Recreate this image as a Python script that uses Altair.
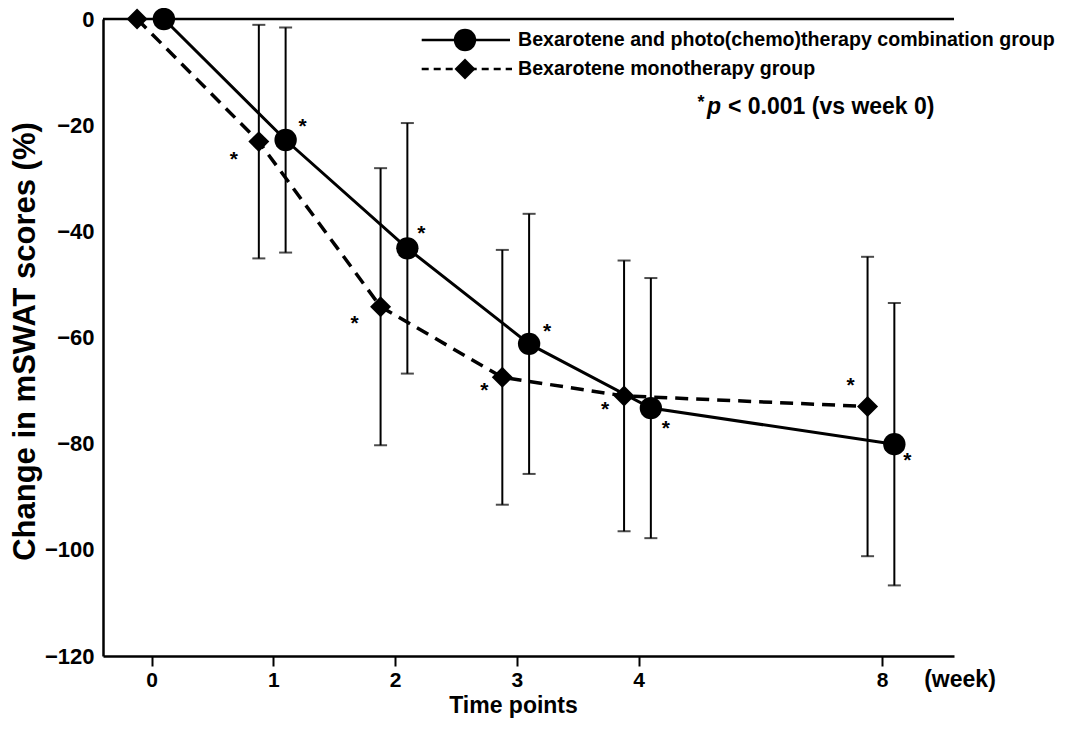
import altair as alt
import pandas as pd

# ---------------- data ----------------
weeks = [0, 1, 2, 3, 4, 8]
week_slot = [0, 1, 2, 3, 4, 6]          # axis position of each time point
combo_mean = [0, -22.8, -43.2, -61.2, -73.3, -80.1]
combo_sd = [0, 21.2, 23.6, 24.5, 24.5, 26.6]
mono_mean = [0, -23.1, -54.2, -67.5, -71.0, -73.0]
mono_sd = [0, 22.0, 26.1, 24.0, 25.5, 28.2]
significant = [False, True, True, True, True, True]
group_names = ["Bexarotene and photo(chemo)therapy combination group",
               "Bexarotene monotherapy group"]
# asterisk offsets (pixels) from each marker
combo_star_dx = [0, 17, 14, 18, 15, 13]
combo_star_dy = [0, -18, -19, -17, 16, 12]
mono_star_dx = [0, -25, -26, -18, -19, -17]
mono_star_dy = [0, 13, 12, 9, 9, -26]
y_ticks = [0, -20, -40, -60, -80, -100, -120]

# ---------------- geometry ----------------
W, H = 851, 637
X_DOM = [-0.40, 6.59]
Y_DOM = [-120, 0]
PX_X = W / (X_DOM[1] - X_DOM[0])
PX_Y = H / (Y_DOM[1] - Y_DOM[0])
DODGE = {"combo": 0.10, "mono": -0.12}
FONT = "Liberation Sans, Arial, Helvetica, sans-serif"

rows = []
for key, means, sds, sdx, sdy in [("combo", combo_mean, combo_sd, combo_star_dx, combo_star_dy),
                                  ("mono", mono_mean, mono_sd, mono_star_dx, mono_star_dy)]:
    for i, w in enumerate(weeks):
        x = week_slot[i] + DODGE[key]
        rows.append(dict(group=key, week=w, x=x, mean=means[i], lo=means[i] - sds[i],
                         hi=means[i] + sds[i], sd=sds[i], sig=significant[i],
                         sx=x + sdx[i] / PX_X, sy=means[i] - sdy[i] / PX_Y, star="*"))
df = pd.DataFrame(rows)

xs = alt.Scale(domain=X_DOM, nice=False, zero=False)
ys = alt.Scale(domain=Y_DOM, nice=False, zero=False)

label_expr = "''"
for s, w in zip(week_slot, weeks):
    label_expr = f"datum.value == {s} ? '{w}' : ({label_expr})"

x_axis = alt.Axis(values=week_slot, labelExpr=label_expr, grid=False, domain=True,
                  domainWidth=2.5, domainColor="black", ticks=True, tickSize=10,
                  tickWidth=2, tickColor="black", labelFontSize=21, labelFont=FONT,
                  labelFontWeight="bold", labelColor="black", labelPadding=3,
                  title="Time points", titleFontSize=23, titleFont=FONT,
                  titleFontWeight="bold", titleColor="black", titleX=410, titleY=49,
                  titleBaseline="middle", titleAlign="center")
y_axis = alt.Axis(values=y_ticks, grid=False, domain=True, domainWidth=2.5,
                  domainColor="black", ticks=False, labelFontSize=22, labelFont=FONT,
                  labelFontWeight="bold", labelColor="black", labelPadding=9,
                  title="Change in mSWAT scores (%)", titleFontSize=31, titleFont=FONT,
                  titleFontWeight="bold", titleColor="black", titleX=-78, titleY=322,
                  titleBaseline="middle", titleAlign="center", titleAngle=270)

base = alt.Chart(df)

top_line = alt.Chart(pd.DataFrame({"y": [0]})).mark_rule(
    color="black", strokeWidth=2.5).encode(y=alt.Y("y:Q", scale=ys, axis=y_axis))

err = base.transform_filter("datum.sd > 0")
err_rule = err.mark_rule(color="black", strokeWidth=2).encode(
    x=alt.X("x:Q", scale=xs, axis=x_axis), y=alt.Y("lo:Q", scale=ys), y2="hi:Q")
cap_lo = err.mark_tick(color="black", orient="horizontal", size=13, thickness=2).encode(
    x=alt.X("x:Q", scale=xs), y=alt.Y("lo:Q", scale=ys))
cap_hi = err.mark_tick(color="black", orient="horizontal", size=13, thickness=2).encode(
    x=alt.X("x:Q", scale=xs), y=alt.Y("hi:Q", scale=ys))

line_combo = base.transform_filter("datum.group == 'combo'").mark_line(
    color="black", strokeWidth=3).encode(
    x=alt.X("x:Q", scale=xs), y=alt.Y("mean:Q", scale=ys), order="x:Q")
line_mono = base.transform_filter("datum.group == 'mono'").mark_line(
    color="black", strokeWidth=3.5, strokeDash=[13, 8]).encode(
    x=alt.X("x:Q", scale=xs), y=alt.Y("mean:Q", scale=ys), order="x:Q")

pt_combo = base.transform_filter("datum.group == 'combo'").mark_point(
    shape="circle", filled=True, size=500, color="black", opacity=1).encode(
    x=alt.X("x:Q", scale=xs), y=alt.Y("mean:Q", scale=ys))
pt_mono = base.transform_filter("datum.group == 'mono'").mark_point(
    shape="diamond", filled=True, size=440, color="black", opacity=1).encode(
    x=alt.X("x:Q", scale=xs), y=alt.Y("mean:Q", scale=ys))

stars = base.transform_filter("datum.sig").mark_text(
    font=FONT, fontSize=21, fontWeight="bold", color="black", baseline="middle",
    align="center", dy=5).encode(
    x=alt.X("sx:Q", scale=xs), y=alt.Y("sy:Q", scale=ys), text="star:N")

# ---------------- legend (drawn by hand, pixel positions in the plot) ----------------
leg = pd.DataFrame({"name": group_names, "row": [0, 1]})
LX1, LX2, LXM, LTX = 318.7, 407, 362, 415
LY = [21, 50]
leg_line1 = alt.Chart(leg[leg.row == 0]).mark_rule(color="black", strokeWidth=2.5).encode(
    x=alt.value(LX1), x2=alt.value(LX2), y=alt.value(LY[0]))
leg_line2 = alt.Chart(leg[leg.row == 1]).mark_rule(
    color="black", strokeWidth=2.5, strokeDash=[7, 5]).encode(
    x=alt.value(LX1), x2=alt.value(LX2 + 2), y=alt.value(LY[1]))
leg_pt1 = alt.Chart(leg[leg.row == 0]).mark_point(
    shape="circle", filled=True, size=500, color="black", opacity=1).encode(
    x=alt.value(LXM), y=alt.value(LY[0]))
leg_pt2 = alt.Chart(leg[leg.row == 1]).mark_point(
    shape="diamond", filled=True, size=440, color="black", opacity=1).encode(
    x=alt.value(LXM), y=alt.value(LY[1]))
leg_txt1 = alt.Chart(leg[leg.row == 0]).mark_text(
    font=FONT, fontSize=19.6, fontWeight="bold", color="black", align="left",
    baseline="middle").encode(x=alt.value(LTX), y=alt.value(LY[0]), text="name:N")
leg_txt2 = alt.Chart(leg[leg.row == 1]).mark_text(
    font=FONT, fontSize=19.6, fontWeight="bold", color="black", align="left",
    baseline="middle").encode(x=alt.value(LTX), y=alt.value(LY[1]), text="name:N")

ann = pd.DataFrame({"a": ["*"], "p": ["p"], "rest": ["< 0.001 (vs week 0)"], "unit": ["(week)"]})
p_star = alt.Chart(ann).mark_text(font=FONT, fontSize=18, fontWeight="bold", color="black",
                                  align="center", baseline="middle").encode(
    x=alt.value(598), y=alt.value(84), text="a:N")
p_p = alt.Chart(ann).mark_text(font=FONT, fontSize=23, fontWeight="bold", fontStyle="italic",
                               color="black", align="left", baseline="middle").encode(
    x=alt.value(604), y=alt.value(88), text="p:N")
p_rest = alt.Chart(ann).mark_text(font=FONT, fontSize=23, fontWeight="bold", color="black",
                                  align="left", baseline="middle").encode(
    x=alt.value(625), y=alt.value(88), text="rest:N")
unit_txt = alt.Chart(ann).mark_text(font=FONT, fontSize=23, fontWeight="bold", color="black",
                                    align="center", baseline="middle").encode(
    x=alt.value(857), y=alt.value(H + 24), text="unit:N")

chart = alt.layer(
    top_line, err_rule, cap_lo, cap_hi, line_mono, line_combo, pt_mono, pt_combo, stars,
    leg_line1, leg_line2, leg_pt1, leg_pt2, leg_txt1, leg_txt2,
    p_star, p_p, p_rest, unit_txt
).properties(
    width=W, height=H,
    autosize=alt.AutoSizeParams(type="none"),
    padding={"left": 95, "top": 11, "right": 112, "bottom": 69},
).configure(background="white").configure_view(stroke=None)

chart.save("out.html", embed_options={"renderer": "svg", "actions": False})
